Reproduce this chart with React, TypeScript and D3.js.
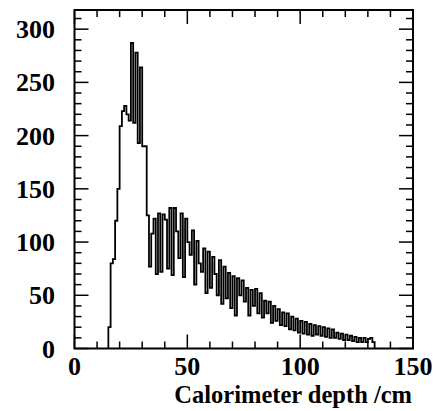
import React from "react";
import * as d3 from "d3";

// Histogram: 1 cm bins from 0 to 150 cm; counts for bins starting at FIRST_BIN
const FIRST_BIN = 15;
const counts: number[] = [
  20, 80, 84, 120, 150, 209, 223, 228, 220, 214, // 15-24
  287, 212, 278, 193, 264, 190, 190, 125, 77, 108, // 25-34
  122, 70, 127, 72, 126, 121, 75, 132, 69, 132, // 35-44
  110, 85, 127, 67, 122, 100, 88, 111, 60, 101, // 45-54
  80, 72, 94, 52, 91, 57, 86, 70, 50, 83, // 55-64
  42, 77, 47, 71, 38, 68, 31, 66, 50, 64, // 65-74
  44, 57, 31, 55, 40, 56, 33, 52, 29, 45, // 75-84
  33, 44, 24, 40, 26, 37, 22, 34, 21, 33, // 85-94
  18, 30, 17, 28, 15, 26, 14, 25, 13, 23, // 95-104
  12, 22, 13, 21, 12, 20, 11, 19, 10, 18, // 105-114
  10, 15, 9, 14, 8, 13, 8, 12, 7, 11, // 115-124
  6, 10, 6, 10, 6, 9, 10, 6, // 125-132
];
const X_MIN = 0;
const X_MAX = 150;
const Y_MAX = 318;
const xTickLabels = [0, 50, 100, 150];
const yTickLabels = [0, 50, 100, 150, 200, 250, 300];
const xTitle = "Calorimeter depth /cm";

export default function App() {
  const W = 436, H = 411;
  const left = 74.5, right = 413, top = 10, bottom = 348.5;
  const x = d3.scaleLinear().domain([X_MIN, X_MAX]).range([left, right]);
  const y = d3.scaleLinear().domain([0, Y_MAX]).range([bottom, top]);

  // step path
  const pts: [number, number][] = [];
  pts.push([x(FIRST_BIN), y(0)]);
  counts.forEach((c, i) => {
    const b = FIRST_BIN + i;
    pts.push([x(b), y(c)]);
    pts.push([x(b + 1), y(c)]);
  });
  pts.push([x(FIRST_BIN + counts.length), y(0)]);
  const line = d3.line<[number, number]>().x((d) => d[0]).y((d) => d[1]);

  const xMinor = d3.range(X_MIN, X_MAX + 0.001, 10);
  const yMinor = d3.range(0, Y_MAX, 10);
  const font = "'Liberation Serif', 'Times New Roman', serif";

  return (
    <svg width={W} height={H} style={{ position: "absolute", left: 0, top: 0, background: "#fff" }}>
      <rect x={0} y={0} width={W} height={H} fill="#fff" />
      <path d={line(pts) || ""} fill="none" stroke="#000" strokeWidth={1.8} />
      {xMinor.map((v) => {
        const major = v % 50 === 0;
        const len = major ? 14 : 7;
        return (
          <g key={"xt" + v}>
            <line x1={x(v)} x2={x(v)} y1={bottom} y2={bottom - len} stroke="#000" strokeWidth={1.5} />
            <line x1={x(v)} x2={x(v)} y1={top} y2={top + len} stroke="#000" strokeWidth={1.5} />
          </g>
        );
      })}
      {yMinor.map((v) => {
        const major = v % 50 === 0;
        const len = major ? 14 : 7;
        return (
          <g key={"yt" + v}>
            <line x1={left} x2={left + len} y1={y(v)} y2={y(v)} stroke="#000" strokeWidth={1.5} />
            <line x1={right} x2={right - len} y1={y(v)} y2={y(v)} stroke="#000" strokeWidth={1.5} />
          </g>
        );
      })}
      <rect x={left} y={top} width={right - left} height={bottom - top} fill="none" stroke="#000" strokeWidth={2} />
      {xTickLabels.map((v) => (
        <text key={"xl" + v} x={x(v)} y={375} textAnchor="middle" fontFamily={font} fontWeight="bold" fontSize={26} fill="#000">
          {v}
        </text>
      ))}
      {yTickLabels.map((v) => (
        <text key={"yl" + v} x={55} y={y(v)} dy="0.35em" textAnchor="end" fontFamily={font} fontWeight="bold" fontSize={26} fill="#000">
          {v}
        </text>
      ))}
      <text x={412} y={403} textAnchor="end" fontFamily={font} fontWeight="bold" fontSize={24.5} fill="#000">
        {xTitle}
      </text>
    </svg>
  );
}
